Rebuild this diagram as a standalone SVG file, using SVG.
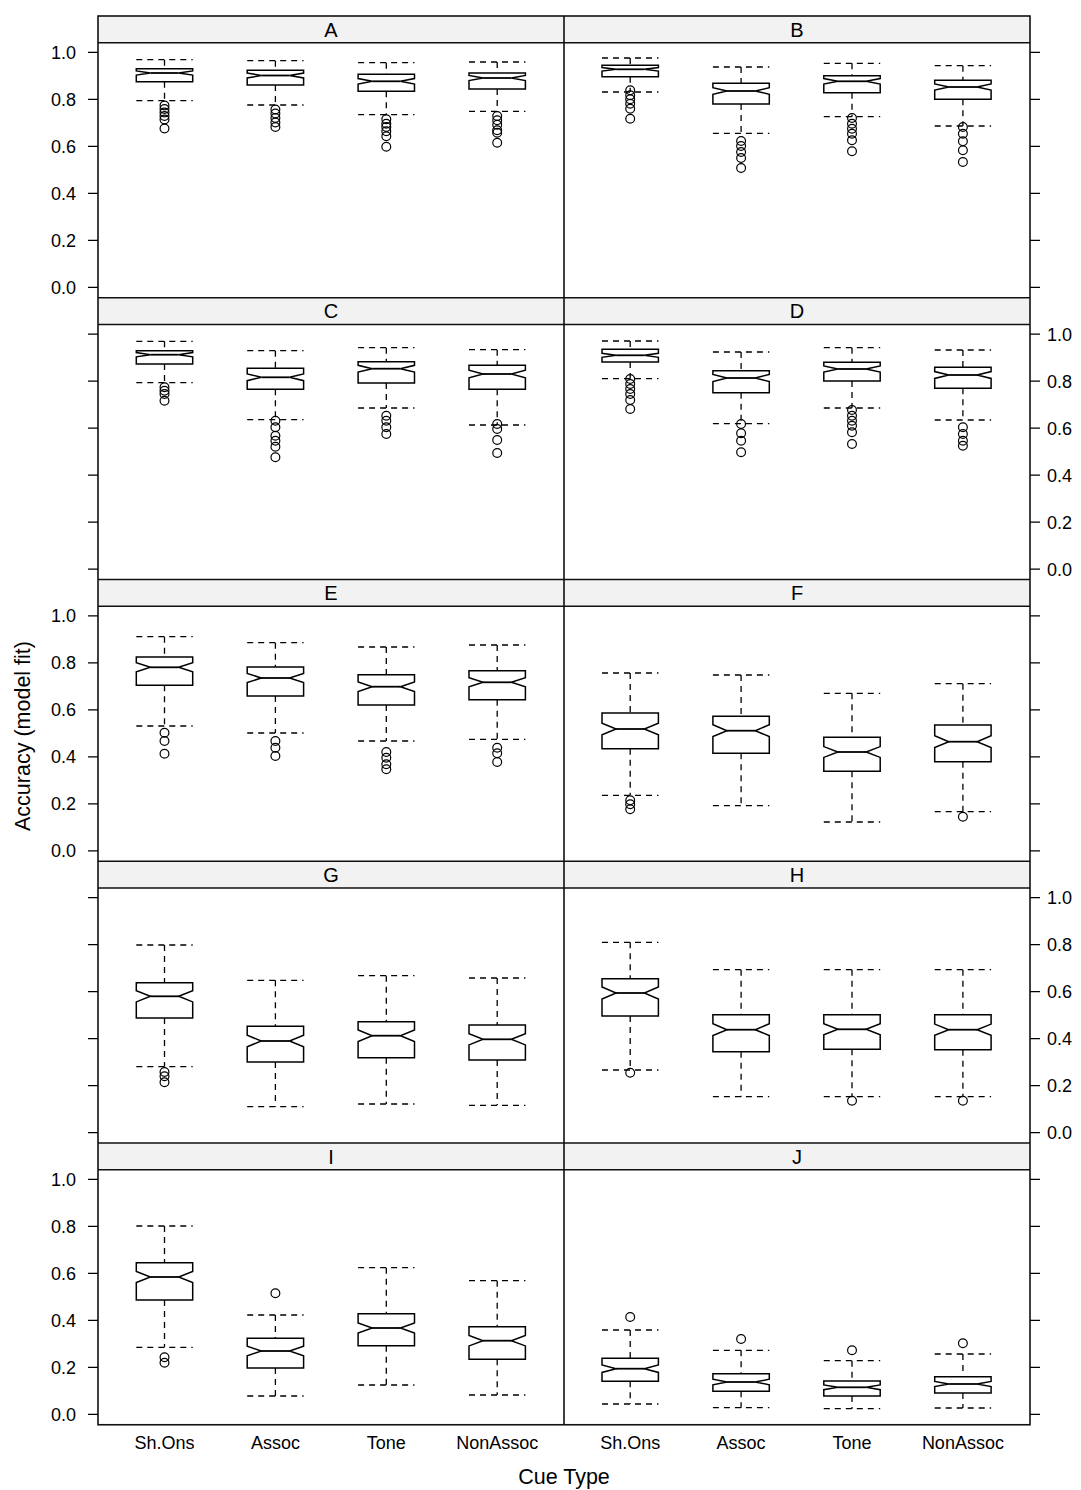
<svg xmlns="http://www.w3.org/2000/svg" width="1081" height="1490" viewBox="0 0 1081 1490">
<style>
text{font-family:"Liberation Sans",Arial,Helvetica,sans-serif;fill:#000}
.tl{font-size:18px}
.st{font-size:20px;text-anchor:middle}
.ax{font-size:21.5px;text-anchor:middle}
.strip{fill:#f2f2f2;stroke:none}
.frame{fill:none;stroke:#111;stroke-width:1.6}
.tick{stroke:#000;stroke-width:1.3;fill:none}
.box{fill:none;stroke:#000;stroke-width:1.5;stroke-linejoin:miter}
.med{stroke:#000;stroke-width:1.8;fill:none}
.wh{fill:none;stroke:#000;stroke-width:1.3;stroke-dasharray:6 5}
.o{fill:none;stroke:#000;stroke-width:1.2}
</style>
<rect width="1081" height="1490" fill="#fff"/>

<g id="strips">
<rect class="strip" x="98" y="16" width="932" height="26.7"/>
<rect class="strip" x="98" y="297.75" width="932" height="26.7"/>
<rect class="strip" x="98" y="579.5" width="932" height="26.7"/>
<rect class="strip" x="98" y="861.25" width="932" height="26.7"/>
<rect class="strip" x="98" y="1143" width="932" height="26.7"/>
<text class="st" x="331" y="36.5">A</text><text class="st" x="797" y="36.5">B</text>
<text class="st" x="331" y="318.25">C</text><text class="st" x="797" y="318.25">D</text>
<text class="st" x="331" y="600">E</text><text class="st" x="797" y="600">F</text>
<text class="st" x="331" y="881.75">G</text><text class="st" x="797" y="881.75">H</text>
<text class="st" x="331" y="1163.5">I</text><text class="st" x="797" y="1163.5">J</text>
</g>

<g id="frames">
<rect class="frame" x="98" y="16" width="932" height="1408.75"/>
<path class="frame" d="M564 16V1424.75M98 42.7H1030M98 297.75H1030M98 324.45H1030M98 579.5H1030M98 606.2H1030M98 861.25H1030M98 887.95H1030M98 1143H1030M98 1169.7H1030"/>
</g>

<g id="axes">
<path class="tick" d="M88 287.3H98M88 240.3H98M88 193.3H98M88 146.3H98M88 99.3H98M88 52.3H98
M88 569.05H98M88 522.05H98M88 475.05H98M88 428.05H98M88 381.05H98M88 334.05H98
M88 850.8H98M88 803.8H98M88 756.8H98M88 709.8H98M88 662.8H98M88 615.8H98
M88 1132.55H98M88 1085.55H98M88 1038.55H98M88 991.55H98M88 944.55H98M88 897.55H98
M88 1414.3H98M88 1367.3H98M88 1320.3H98M88 1273.3H98M88 1226.3H98M88 1179.3H98
M1030 287.3H1040M1030 240.3H1040M1030 193.3H1040M1030 146.3H1040M1030 99.3H1040M1030 52.3H1040
M1030 569.05H1040M1030 522.05H1040M1030 475.05H1040M1030 428.05H1040M1030 381.05H1040M1030 334.05H1040
M1030 850.8H1040M1030 803.8H1040M1030 756.8H1040M1030 709.8H1040M1030 662.8H1040M1030 615.8H1040
M1030 1132.55H1040M1030 1085.55H1040M1030 1038.55H1040M1030 991.55H1040M1030 944.55H1040M1030 897.55H1040
M1030 1414.3H1040M1030 1367.3H1040M1030 1320.3H1040M1030 1273.3H1040M1030 1226.3H1040M1030 1179.3H1040"/>
<g class="tl" text-anchor="end">
<text x="76" y="293.8">0.0</text><text x="76" y="246.8">0.2</text><text x="76" y="199.8">0.4</text><text x="76" y="152.8">0.6</text><text x="76" y="105.8">0.8</text><text x="76" y="58.8">1.0</text>
<text x="76" y="857.3">0.0</text><text x="76" y="810.3">0.2</text><text x="76" y="763.3">0.4</text><text x="76" y="716.3">0.6</text><text x="76" y="669.3">0.8</text><text x="76" y="622.3">1.0</text>
<text x="76" y="1420.8">0.0</text><text x="76" y="1373.8">0.2</text><text x="76" y="1326.8">0.4</text><text x="76" y="1279.8">0.6</text><text x="76" y="1232.8">0.8</text><text x="76" y="1185.8">1.0</text>
</g>
<g class="tl">
<text x="1047" y="575.55">0.0</text><text x="1047" y="528.55">0.2</text><text x="1047" y="481.55">0.4</text><text x="1047" y="434.55">0.6</text><text x="1047" y="387.55">0.8</text><text x="1047" y="340.55">1.0</text>
<text x="1047" y="1139.05">0.0</text><text x="1047" y="1092.05">0.2</text><text x="1047" y="1045.05">0.4</text><text x="1047" y="998.05">0.6</text><text x="1047" y="951.05">0.8</text><text x="1047" y="904.05">1.0</text>
</g>
<g class="tl" text-anchor="middle">
<text x="164.5" y="1449">Sh.Ons</text><text x="275.4" y="1449">Assoc</text><text x="386.3" y="1449">Tone</text><text x="497.2" y="1449">NonAssoc</text>
<text x="630.2" y="1449">Sh.Ons</text><text x="741.1" y="1449">Assoc</text><text x="852" y="1449">Tone</text><text x="962.9" y="1449">NonAssoc</text>
</g>
<text class="ax" x="564" y="1484">Cue Type</text>
<text class="ax" transform="translate(30 736) rotate(-90)" x="0" y="0">Accuracy (model fit)</text>
</g>

<g id="panel-A">
<g id="A1" transform="translate(164.5 0)"><path class="box" d="M-28.2 68.7H28.2V70.9L14.1 73L28.2 75.1V81.7H-28.2V75.1L-14.1 73L-28.2 70.9Z"/><path class="med" d="M-14.1 73H14.1"/><path class="wh" d="M0 59.7V68.7M0 81.7V100.7M-28.2 59.7H28.2M-28.2 100.7H28.2"/>
<circle class="o" cx="0" cy="105.5" r="4.4"/><circle class="o" cx="0" cy="109" r="4.4"/><circle class="o" cx="0" cy="112.5" r="4.4"/><circle class="o" cx="0" cy="116" r="4.4"/><circle class="o" cx="0" cy="119.5" r="4.4"/><circle class="o" cx="0" cy="128.5" r="4.4"/></g>
<g id="A2" transform="translate(275.4 0)"><path class="box" d="M-28.2 70.3H28.2V73.1L14.1 75.5L28.2 77.9V85H-28.2V77.9L-14.1 75.5L-28.2 73.1Z"/><path class="med" d="M-14.1 75.5H14.1"/><path class="wh" d="M0 60.7V70.3M0 85V105M-28.2 60.7H28.2M-28.2 105H28.2"/>
<circle class="o" cx="0" cy="109.5" r="4.4"/><circle class="o" cx="0" cy="113.5" r="4.4"/><circle class="o" cx="0" cy="118" r="4.4"/><circle class="o" cx="0" cy="122.5" r="4.4"/><circle class="o" cx="0" cy="127" r="4.4"/></g>
<g id="A3" transform="translate(386.3 0)"><path class="box" d="M-28.2 74.3H28.2V78.6L14.1 81.3L28.2 84V91.3H-28.2V84L-14.1 81.3L-28.2 78.6Z"/><path class="med" d="M-14.1 81.3H14.1"/><path class="wh" d="M0 62.7V74.3M0 91.3V114.7M-28.2 62.7H28.2M-28.2 114.7H28.2"/>
<circle class="o" cx="0" cy="119.3" r="4.4"/><circle class="o" cx="0" cy="123.7" r="4.4"/><circle class="o" cx="0" cy="127" r="4.4"/><circle class="o" cx="0" cy="131.3" r="4.4"/><circle class="o" cx="0" cy="136.3" r="4.4"/><circle class="o" cx="0" cy="146.7" r="4.4"/></g>
<g id="A4" transform="translate(497.2 0)"><path class="box" d="M-28.2 73H28.2V75.4L14.1 78L28.2 80.6V89H-28.2V80.6L-14.1 78L-28.2 75.4Z"/><path class="med" d="M-14.1 78H14.1"/><path class="wh" d="M0 62V73M0 89V111.3M-28.2 62H28.2M-28.2 111.3H28.2"/>
<circle class="o" cx="0" cy="116" r="4.4"/><circle class="o" cx="0" cy="120.3" r="4.4"/><circle class="o" cx="0" cy="124.7" r="4.4"/><circle class="o" cx="0" cy="130.3" r="4.4"/><circle class="o" cx="0" cy="132.7" r="4.4"/><circle class="o" cx="0" cy="142.7" r="4.4"/></g>
</g>

<g id="panel-B">
<g id="B1" transform="translate(630.2 0)"><path class="box" d="M-28.2 65.3H28.2V67.5L14.1 69.3L28.2 71.1V76.7H-28.2V71.1L-14.1 69.3L-28.2 67.5Z"/><path class="med" d="M-14.1 69.3H14.1"/><path class="wh" d="M0 58V65.3M0 76.7V92M-28.2 58H28.2M-28.2 92H28.2"/>
<circle class="o" cx="0" cy="90.3" r="4.4"/><circle class="o" cx="0" cy="95.3" r="4.4"/><circle class="o" cx="0" cy="99.3" r="4.4"/><circle class="o" cx="0" cy="103.7" r="4.4"/><circle class="o" cx="0" cy="108.7" r="4.4"/><circle class="o" cx="0" cy="118.7" r="4.4"/></g>
<g id="B2" transform="translate(741.1 0)"><path class="box" d="M-28.2 83.3H28.2V87.7L14.1 91L28.2 94.3V104H-28.2V94.3L-14.1 91L-28.2 87.7Z"/><path class="med" d="M-14.1 91H14.1"/><path class="wh" d="M0 67V83.3M0 104V133.3M-28.2 67H28.2M-28.2 133.3H28.2"/>
<circle class="o" cx="0" cy="141" r="4.4"/><circle class="o" cx="0" cy="146" r="4.4"/><circle class="o" cx="0" cy="152" r="4.4"/><circle class="o" cx="0" cy="158" r="4.4"/><circle class="o" cx="0" cy="168" r="4.4"/></g>
<g id="B3" transform="translate(852 0)"><path class="box" d="M-28.2 75.7H28.2V78.6L14.1 81.3L28.2 84V92.7H-28.2V84L-14.1 81.3L-28.2 78.6Z"/><path class="med" d="M-14.1 81.3H14.1"/><path class="wh" d="M0 63.3V75.7M0 92.7V116.7M-28.2 63.3H28.2M-28.2 116.7H28.2"/>
<circle class="o" cx="0" cy="118" r="4.4"/><circle class="o" cx="0" cy="123.7" r="4.4"/><circle class="o" cx="0" cy="128.7" r="4.4"/><circle class="o" cx="0" cy="133.7" r="4.4"/><circle class="o" cx="0" cy="140.3" r="4.4"/><circle class="o" cx="0" cy="151.3" r="4.4"/></g>
<g id="B4" transform="translate(962.9 0)"><path class="box" d="M-28.2 80.3H28.2V84L14.1 87L28.2 90V99.3H-28.2V90L-14.1 87L-28.2 84Z"/><path class="med" d="M-14.1 87H14.1"/><path class="wh" d="M0 65.7V80.3M0 99.3V126M-28.2 65.7H28.2M-28.2 126H28.2"/>
<circle class="o" cx="0" cy="127" r="4.4"/><circle class="o" cx="0" cy="133.7" r="4.4"/><circle class="o" cx="0" cy="141.3" r="4.4"/><circle class="o" cx="0" cy="150.3" r="4.4"/><circle class="o" cx="0" cy="162" r="4.4"/></g>
</g>

<g id="panel-C">
<g id="C1" transform="translate(164.5 0)"><path class="box" d="M-28.2 350.7H28.2V352.6L14.1 354.7L28.2 356.8V364H-28.2V356.8L-14.1 354.7L-28.2 352.6Z"/><path class="med" d="M-14.1 354.7H14.1"/><path class="wh" d="M0 341.3V350.7M0 364V382.7M-28.2 341.3H28.2M-28.2 382.7H28.2"/>
<circle class="o" cx="0" cy="387.3" r="4.4"/><circle class="o" cx="0" cy="390.7" r="4.4"/><circle class="o" cx="0" cy="394" r="4.4"/><circle class="o" cx="0" cy="400.7" r="4.4"/></g>
<g id="C2" transform="translate(275.4 0)"><path class="box" d="M-28.2 368.3H28.2V373.9L14.1 377.3L28.2 380.7V389.3H-28.2V380.7L-14.1 377.3L-28.2 373.9Z"/><path class="med" d="M-14.1 377.3H14.1"/><path class="wh" d="M0 350.7V368.3M0 389.3V419.7M-28.2 350.7H28.2M-28.2 419.7H28.2"/>
<circle class="o" cx="0" cy="420.7" r="4.4"/><circle class="o" cx="0" cy="427.3" r="4.4"/><circle class="o" cx="0" cy="435.7" r="4.4"/><circle class="o" cx="0" cy="440.7" r="4.4"/><circle class="o" cx="0" cy="446.7" r="4.4"/><circle class="o" cx="0" cy="457.3" r="4.4"/></g>
<g id="C3" transform="translate(386.3 0)"><path class="box" d="M-28.2 361.7H28.2V365.3L14.1 368.7L28.2 372.1V383H-28.2V372.1L-14.1 368.7L-28.2 365.3Z"/><path class="med" d="M-14.1 368.7H14.1"/><path class="wh" d="M0 347.7V361.7M0 383V408M-28.2 347.7H28.2M-28.2 408H28.2"/>
<circle class="o" cx="0" cy="415.7" r="4.4"/><circle class="o" cx="0" cy="420.7" r="4.4"/><circle class="o" cx="0" cy="427.3" r="4.4"/><circle class="o" cx="0" cy="434" r="4.4"/></g>
<g id="C4" transform="translate(497.2 0)"><path class="box" d="M-28.2 365.3H28.2V370.2L14.1 374L28.2 377.8V389.3H-28.2V377.8L-14.1 374L-28.2 370.2Z"/><path class="med" d="M-14.1 374H14.1"/><path class="wh" d="M0 349.7V365.3M0 389.3V425M-28.2 349.7H28.2M-28.2 425H28.2"/>
<circle class="o" cx="0" cy="424" r="4.4"/><circle class="o" cx="0" cy="429" r="4.4"/><circle class="o" cx="0" cy="440" r="4.4"/><circle class="o" cx="0" cy="453" r="4.4"/></g>
</g>

<g id="panel-D">
<g id="D1" transform="translate(630.2 0)"><path class="box" d="M-28.2 349.3H28.2V353.3L14.1 355.3L28.2 357.3V362H-28.2V357.3L-14.1 355.3L-28.2 353.3Z"/><path class="med" d="M-14.1 355.3H14.1"/><path class="wh" d="M0 341V349.3M0 362V378.7M-28.2 341H28.2M-28.2 378.7H28.2"/>
<circle class="o" cx="0" cy="379" r="4.4"/><circle class="o" cx="0" cy="384" r="4.4"/><circle class="o" cx="0" cy="389" r="4.4"/><circle class="o" cx="0" cy="394" r="4.4"/><circle class="o" cx="0" cy="400" r="4.4"/><circle class="o" cx="0" cy="409" r="4.4"/></g>
<g id="D2" transform="translate(741.1 0)"><path class="box" d="M-28.2 370.7H28.2V374.5L14.1 378L28.2 381.5V392.7H-28.2V381.5L-14.1 378L-28.2 374.5Z"/><path class="med" d="M-14.1 378H14.1"/><path class="wh" d="M0 352V370.7M0 392.7V423.7M-28.2 352H28.2M-28.2 423.7H28.2"/>
<circle class="o" cx="0" cy="424" r="4.4"/><circle class="o" cx="0" cy="433.3" r="4.4"/><circle class="o" cx="0" cy="440.7" r="4.4"/><circle class="o" cx="0" cy="452.3" r="4.4"/></g>
<g id="D3" transform="translate(852 0)"><path class="box" d="M-28.2 362.3H28.2V366L14.1 369L28.2 372V381H-28.2V372L-14.1 369L-28.2 366Z"/><path class="med" d="M-14.1 369H14.1"/><path class="wh" d="M0 347.7V362.3M0 381V408M-28.2 347.7H28.2M-28.2 408H28.2"/>
<circle class="o" cx="0" cy="410" r="4.4"/><circle class="o" cx="0" cy="415.7" r="4.4"/><circle class="o" cx="0" cy="420.7" r="4.4"/><circle class="o" cx="0" cy="425.7" r="4.4"/><circle class="o" cx="0" cy="432.3" r="4.4"/><circle class="o" cx="0" cy="444" r="4.4"/></g>
<g id="D4" transform="translate(962.9 0)"><path class="box" d="M-28.2 367.3H28.2V371.6L14.1 375L28.2 378.4V388.3H-28.2V378.4L-14.1 375L-28.2 371.6Z"/><path class="med" d="M-14.1 375H14.1"/><path class="wh" d="M0 350V367.3M0 388.3V420M-28.2 350H28.2M-28.2 420H28.2"/>
<circle class="o" cx="0" cy="427.3" r="4.4"/><circle class="o" cx="0" cy="434" r="4.4"/><circle class="o" cx="0" cy="440.7" r="4.4"/><circle class="o" cx="0" cy="445.7" r="4.4"/></g>
</g>

<g id="panel-E">
<g id="E1" transform="translate(164.5 0)"><path class="box" d="M-28.2 657H28.2V662.8L14.1 667.3L28.2 671.8V685.3H-28.2V671.8L-14.1 667.3L-28.2 662.8Z"/><path class="med" d="M-14.1 667.3H14.1"/><path class="wh" d="M0 636.7V657M0 685.3V726M-28.2 636.7H28.2M-28.2 726H28.2"/>
<circle class="o" cx="0" cy="732.7" r="4.4"/><circle class="o" cx="0" cy="741" r="4.4"/><circle class="o" cx="0" cy="753.7" r="4.4"/></g>
<g id="E2" transform="translate(275.4 0)"><path class="box" d="M-28.2 667H28.2V673.4L14.1 678L28.2 682.6V696H-28.2V682.6L-14.1 678L-28.2 673.4Z"/><path class="med" d="M-14.1 678H14.1"/><path class="wh" d="M0 642.7V667M0 696V733M-28.2 642.7H28.2M-28.2 733H28.2"/>
<circle class="o" cx="0" cy="741" r="4.4"/><circle class="o" cx="0" cy="747.7" r="4.4"/><circle class="o" cx="0" cy="756" r="4.4"/></g>
<g id="E3" transform="translate(386.3 0)"><path class="box" d="M-28.2 674.7H28.2V681.9L14.1 686.7L28.2 691.5V705H-28.2V691.5L-14.1 686.7L-28.2 681.9Z"/><path class="med" d="M-14.1 686.7H14.1"/><path class="wh" d="M0 647V674.7M0 705V741M-28.2 647H28.2M-28.2 741H28.2"/>
<circle class="o" cx="0" cy="752" r="4.4"/><circle class="o" cx="0" cy="757.7" r="4.4"/><circle class="o" cx="0" cy="764.3" r="4.4"/><circle class="o" cx="0" cy="769.3" r="4.4"/></g>
<g id="E4" transform="translate(497.2 0)"><path class="box" d="M-28.2 670.7H28.2V677.7L14.1 682.3L28.2 686.9V699.7H-28.2V686.9L-14.1 682.3L-28.2 677.7Z"/><path class="med" d="M-14.1 682.3H14.1"/><path class="wh" d="M0 645V670.7M0 699.7V739.3M-28.2 645H28.2M-28.2 739.3H28.2"/>
<circle class="o" cx="0" cy="747.7" r="4.4"/><circle class="o" cx="0" cy="753.3" r="4.4"/><circle class="o" cx="0" cy="762" r="4.4"/></g>
</g>

<g id="panel-F">
<g id="F1" transform="translate(630.2 0)"><path class="box" d="M-28.2 713H28.2V723.3L14.1 729L28.2 734.7V748.7H-28.2V734.7L-14.1 729L-28.2 723.3Z"/><path class="med" d="M-14.1 729H14.1"/><path class="wh" d="M0 673V713M0 748.7V795.3M-28.2 673H28.2M-28.2 795.3H28.2"/>
<circle class="o" cx="0" cy="800.3" r="4.4"/><circle class="o" cx="0" cy="804.3" r="4.4"/><circle class="o" cx="0" cy="809.3" r="4.4"/></g>
<g id="F2" transform="translate(741.1 0)"><path class="box" d="M-28.2 716.3H28.2V724.8L14.1 730.7L28.2 736.6V753.3H-28.2V736.6L-14.1 730.7L-28.2 724.8Z"/><path class="med" d="M-14.1 730.7H14.1"/><path class="wh" d="M0 675V716.3M0 753.3V805.7M-28.2 675H28.2M-28.2 805.7H28.2"/></g>
<g id="F3" transform="translate(852 0)"><path class="box" d="M-28.2 737.3H28.2V746.6L14.1 752L28.2 757.4V771.3H-28.2V757.4L-14.1 752L-28.2 746.6Z"/><path class="med" d="M-14.1 752H14.1"/><path class="wh" d="M0 693.3V737.3M0 771.3V822M-28.2 693.3H28.2M-28.2 822H28.2"/></g>
<g id="F4" transform="translate(962.9 0)"><path class="box" d="M-28.2 725H28.2V735.8L14.1 741.7L28.2 747.6V761.7H-28.2V747.6L-14.1 741.7L-28.2 735.8Z"/><path class="med" d="M-14.1 741.7H14.1"/><path class="wh" d="M0 683.7V725M0 761.7V811.7M-28.2 683.7H28.2M-28.2 811.7H28.2"/>
<circle class="o" cx="0" cy="816.7" r="4.4"/></g>
</g>

<g id="panel-G">
<g id="G1" transform="translate(164.5 0)"><path class="box" d="M-28.2 982.7H28.2V990.7L14.1 996.3L28.2 1001.9V1018H-28.2V1001.9L-14.1 996.3L-28.2 990.7Z"/><path class="med" d="M-14.1 996.3H14.1"/><path class="wh" d="M0 945V982.7M0 1018V1066.7M-28.2 945H28.2M-28.2 1066.7H28.2"/>
<circle class="o" cx="0" cy="1072" r="4.4"/><circle class="o" cx="0" cy="1076.3" r="4.4"/><circle class="o" cx="0" cy="1082.3" r="4.4"/></g>
<g id="G2" transform="translate(275.4 0)"><path class="box" d="M-28.2 1026.3H28.2V1035.3L14.1 1041L28.2 1046.7V1062H-28.2V1046.7L-14.1 1041L-28.2 1035.3Z"/><path class="med" d="M-14.1 1041H14.1"/><path class="wh" d="M0 980.3V1026.3M0 1062V1106.7M-28.2 980.3H28.2M-28.2 1106.7H28.2"/></g>
<g id="G3" transform="translate(386.3 0)"><path class="box" d="M-28.2 1021.7H28.2V1029.9L14.1 1035.7L28.2 1041.5V1057.7H-28.2V1041.5L-14.1 1035.7L-28.2 1029.9Z"/><path class="med" d="M-14.1 1035.7H14.1"/><path class="wh" d="M0 975.7V1021.7M0 1057.7V1104M-28.2 975.7H28.2M-28.2 1104H28.2"/></g>
<g id="G4" transform="translate(497.2 0)"><path class="box" d="M-28.2 1025H28.2V1033.7L14.1 1039.3L28.2 1044.9V1060H-28.2V1044.9L-14.1 1039.3L-28.2 1033.7Z"/><path class="med" d="M-14.1 1039.3H14.1"/><path class="wh" d="M0 978V1025M0 1060V1105.3M-28.2 978H28.2M-28.2 1105.3H28.2"/></g>
</g>

<g id="panel-H">
<g id="H1" transform="translate(630.2 0)"><path class="box" d="M-28.2 978.7H28.2V987L14.1 993L28.2 999V1016H-28.2V999L-14.1 993L-28.2 987Z"/><path class="med" d="M-14.1 993H14.1"/><path class="wh" d="M0 942.3V978.7M0 1016V1070M-28.2 942.3H28.2M-28.2 1070H28.2"/>
<circle class="o" cx="0" cy="1072.7" r="4.4"/></g>
<g id="H2" transform="translate(741.1 0)"><path class="box" d="M-28.2 1014.7H28.2V1023.8L14.1 1029.7L28.2 1035.6V1051.7H-28.2V1035.6L-14.1 1029.7L-28.2 1023.8Z"/><path class="med" d="M-14.1 1029.7H14.1"/><path class="wh" d="M0 969.7V1014.7M0 1051.7V1096.7M-28.2 969.7H28.2M-28.2 1096.7H28.2"/></g>
<g id="H3" transform="translate(852 0)"><path class="box" d="M-28.2 1014.7H28.2V1023.8L14.1 1029.3L28.2 1034.8V1049.3H-28.2V1034.8L-14.1 1029.3L-28.2 1023.8Z"/><path class="med" d="M-14.1 1029.3H14.1"/><path class="wh" d="M0 969.7V1014.7M0 1049.3V1096.7M-28.2 969.7H28.2M-28.2 1096.7H28.2"/>
<circle class="o" cx="0" cy="1100.7" r="4.4"/></g>
<g id="H4" transform="translate(962.9 0)"><path class="box" d="M-28.2 1014.7H28.2V1024.1L14.1 1029.7L28.2 1035.3V1049.7H-28.2V1035.3L-14.1 1029.7L-28.2 1024.1Z"/><path class="med" d="M-14.1 1029.7H14.1"/><path class="wh" d="M0 969.7V1014.7M0 1049.7V1096.7M-28.2 969.7H28.2M-28.2 1096.7H28.2"/>
<circle class="o" cx="0" cy="1100.7" r="4.4"/></g>
</g>

<g id="panel-I">
<g id="I1" transform="translate(164.5 0)"><path class="box" d="M-28.2 1262.7H28.2V1271.5L14.1 1277L28.2 1282.5V1300H-28.2V1282.5L-14.1 1277L-28.2 1271.5Z"/><path class="med" d="M-14.1 1277H14.1"/><path class="wh" d="M0 1226V1262.7M0 1300V1347.3M-28.2 1226H28.2M-28.2 1347.3H28.2"/>
<circle class="o" cx="0" cy="1357.3" r="4.4"/><circle class="o" cx="0" cy="1362.7" r="4.4"/></g>
<g id="I2" transform="translate(275.4 0)"><path class="box" d="M-28.2 1338.3H28.2V1346.2L14.1 1351L28.2 1355.8V1368H-28.2V1355.8L-14.1 1351L-28.2 1346.2Z"/><path class="med" d="M-14.1 1351H14.1"/><path class="wh" d="M0 1315V1338.3M0 1368V1396M-28.2 1315H28.2M-28.2 1396H28.2"/>
<circle class="o" cx="0" cy="1293.3" r="4.4"/></g>
<g id="I3" transform="translate(386.3 0)"><path class="box" d="M-28.2 1313.7H28.2V1322.9L14.1 1328L28.2 1333.1V1345.7H-28.2V1333.1L-14.1 1328L-28.2 1322.9Z"/><path class="med" d="M-14.1 1328H14.1"/><path class="wh" d="M0 1267.7V1313.7M0 1345.7V1385M-28.2 1267.7H28.2M-28.2 1385H28.2"/></g>
<g id="I4" transform="translate(497.2 0)"><path class="box" d="M-28.2 1326.7H28.2V1335.5L14.1 1340.7L28.2 1345.9V1359.3H-28.2V1345.9L-14.1 1340.7L-28.2 1335.5Z"/><path class="med" d="M-14.1 1340.7H14.1"/><path class="wh" d="M0 1280.7V1326.7M0 1359.3V1395M-28.2 1280.7H28.2M-28.2 1395H28.2"/></g>
</g>

<g id="panel-J">
<g id="J1" transform="translate(630.2 0)"><path class="box" d="M-28.2 1358.3H28.2V1365L14.1 1368.7L28.2 1372.4V1381.3H-28.2V1372.4L-14.1 1368.7L-28.2 1365Z"/><path class="med" d="M-14.1 1368.7H14.1"/><path class="wh" d="M0 1330V1358.3M0 1381.3V1404M-28.2 1330H28.2M-28.2 1404H28.2"/>
<circle class="o" cx="0" cy="1317" r="4.4"/></g>
<g id="J2" transform="translate(741.1 0)"><path class="box" d="M-28.2 1373.7H28.2V1379.2L14.1 1382L28.2 1384.8V1391.3H-28.2V1384.8L-14.1 1382L-28.2 1379.2Z"/><path class="med" d="M-14.1 1382H14.1"/><path class="wh" d="M0 1350.3V1373.7M0 1391.3V1407.7M-28.2 1350.3H28.2M-28.2 1407.7H28.2"/>
<circle class="o" cx="0" cy="1339" r="4.4"/></g>
<g id="J3" transform="translate(852 0)"><path class="box" d="M-28.2 1381H28.2V1384.9L14.1 1387.3L28.2 1389.7V1396H-28.2V1389.7L-14.1 1387.3L-28.2 1384.9Z"/><path class="med" d="M-14.1 1387.3H14.1"/><path class="wh" d="M0 1360.7V1381M0 1396V1408.7M-28.2 1360.7H28.2M-28.2 1408.7H28.2"/>
<circle class="o" cx="0" cy="1350.3" r="4.4"/></g>
<g id="J4" transform="translate(962.9 0)"><path class="box" d="M-28.2 1376.7H28.2V1381.4L14.1 1384L28.2 1386.6V1393H-28.2V1386.6L-14.1 1384L-28.2 1381.4Z"/><path class="med" d="M-14.1 1384H14.1"/><path class="wh" d="M0 1354V1376.7M0 1393V1408M-28.2 1354H28.2M-28.2 1408H28.2"/>
<circle class="o" cx="0" cy="1343.3" r="4.4"/></g>
</g>
</svg>
